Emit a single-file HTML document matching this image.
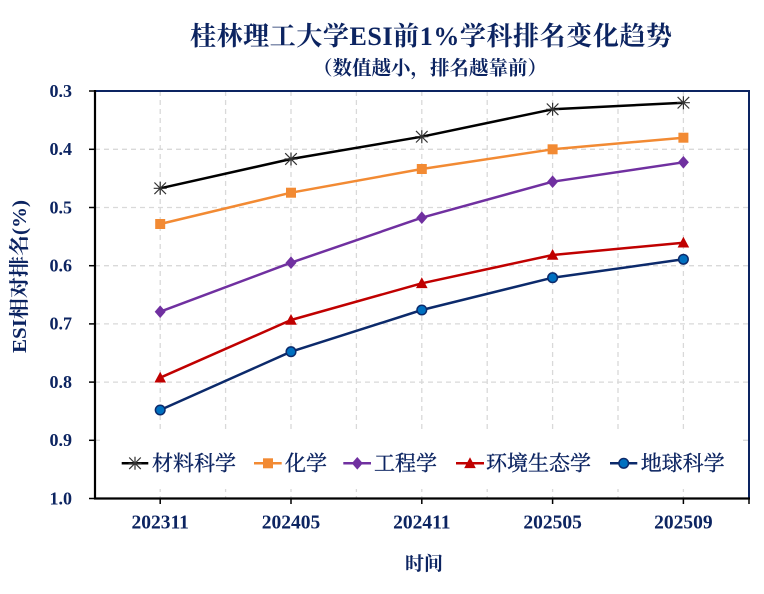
<!DOCTYPE html>
<html>
<head>
<meta charset="utf-8">
<style>
html,body{margin:0;padding:0;background:#fff;}
svg{display:block;}
text{font-family:"Liberation Serif","Noto Serif CJK SC",serif;fill:#0c2461;}
.lg{stroke:#0c2461;stroke-width:0.35;}
</style>
</head>
<body>
<svg width="764" height="594" viewBox="0 0 764 594" xmlns="http://www.w3.org/2000/svg">
<rect x="0" y="0" width="764" height="594" fill="#fff"/>

<!-- Title -->
<text x="190" y="45" font-size="26" font-weight="bold" textLength="482" lengthAdjust="spacing">桂林理工大学ESI前1%学科排名变化趋势</text>
<text x="313" y="74.5" font-size="19.5" font-weight="bold" textLength="234" lengthAdjust="spacing">（数值越小，排名越靠前）</text>

<!-- gridlines -->
<g stroke="#d9d9d9" stroke-width="1.3" stroke-dasharray="5,4" fill="none">
  <line x1="95" y1="149.3" x2="749" y2="149.3"/>
  <line x1="95" y1="207.5" x2="749" y2="207.5"/>
  <line x1="95" y1="265.7" x2="749" y2="265.7"/>
  <line x1="95" y1="323.9" x2="749" y2="323.9"/>
  <line x1="95" y1="382.1" x2="749" y2="382.1"/>
  <line x1="95" y1="440.3" x2="749" y2="440.3"/>
  <line x1="160.2" y1="91" x2="160.2" y2="498"/>
  <line x1="225.6" y1="91" x2="225.6" y2="498"/>
  <line x1="291" y1="91" x2="291" y2="498"/>
  <line x1="356.4" y1="91" x2="356.4" y2="498"/>
  <line x1="421.8" y1="91" x2="421.8" y2="498"/>
  <line x1="487.2" y1="91" x2="487.2" y2="498"/>
  <line x1="552.6" y1="91" x2="552.6" y2="498"/>
  <line x1="618" y1="91" x2="618" y2="498"/>
  <line x1="683.4" y1="91" x2="683.4" y2="498"/>
</g>

<!-- plot border top/right -->
<line x1="94" y1="91" x2="750" y2="91" stroke="#0c2461" stroke-width="2"/>
<line x1="749" y1="90" x2="749" y2="499" stroke="#0c2461" stroke-width="2"/>

<!-- Series -->
<polyline points="160.2,410 291,351.7 421.8,310 552.6,277.7 683.4,259.3" fill="none" stroke="#0c2a6b" stroke-width="2.5" stroke-linejoin="round"/>
<polyline points="160.2,377.7 291,320 421.8,283.3 552.6,255 683.4,242.7" fill="none" stroke="#c00000" stroke-width="2.5" stroke-linejoin="round"/>
<polyline points="160.2,311.7 291,262.7 421.8,217.7 552.6,181.7 683.4,162.3" fill="none" stroke="#7030a0" stroke-width="2.5" stroke-linejoin="round"/>
<polyline points="160.2,224 291,192.7 421.8,169 552.6,149.3 683.4,137.7" fill="none" stroke="#f28a33" stroke-width="2.5" stroke-linejoin="round"/>
<polyline points="160.2,188.3 291,159 421.8,136.7 552.6,109.3 683.4,102.7" fill="none" stroke="#000" stroke-width="2.5" stroke-linejoin="round"/>

<defs>
  <g id="star"><path d="M0,-6.5 L0,6.5 M-5.8,-5.8 L5.8,5.8 M-5.8,5.8 L5.8,-5.8 M-6.5,0 L6.5,0" stroke="#333" stroke-width="1.2" fill="none"/></g>
  <rect id="sq" x="-5" y="-5" width="10" height="10" fill="#f28a33"/>
  <polygon id="dia" points="0,-6.3 5.5,0 0,6.3 -5.5,0" fill="#7030a0"/>
  <polygon id="tri" points="0,-6 5.8,4.8 -5.8,4.8" fill="#c00000"/>
  <circle id="cir" r="4.8" fill="#0070c0" stroke="#0c2a6b" stroke-width="1.5"/>
</defs>

<g>
  <use href="#star" x="160.2" y="188.3"/><use href="#star" x="291" y="159"/><use href="#star" x="421.8" y="136.7"/><use href="#star" x="552.6" y="109.3"/><use href="#star" x="683.4" y="102.7"/>
  <use href="#sq" x="160.2" y="224"/><use href="#sq" x="291" y="192.7"/><use href="#sq" x="421.8" y="169"/><use href="#sq" x="552.6" y="149.3"/><use href="#sq" x="683.4" y="137.7"/>
  <use href="#dia" x="160.2" y="311.7"/><use href="#dia" x="291" y="262.7"/><use href="#dia" x="421.8" y="217.7"/><use href="#dia" x="552.6" y="181.7"/><use href="#dia" x="683.4" y="162.3"/>
  <use href="#tri" x="160.2" y="377.7"/><use href="#tri" x="291" y="320"/><use href="#tri" x="421.8" y="283.3"/><use href="#tri" x="552.6" y="255"/><use href="#tri" x="683.4" y="242.7"/>
  <use href="#cir" x="160.2" y="410"/><use href="#cir" x="291" y="351.7"/><use href="#cir" x="421.8" y="310"/><use href="#cir" x="552.6" y="277.7"/><use href="#cir" x="683.4" y="259.3"/>
</g>

<!-- Legend -->
<rect x="100" y="433" width="640" height="56" fill="#fff"/>
<g>
  <line x1="121.7" y1="463.3" x2="148.3" y2="463.3" stroke="#000" stroke-width="2.5"/>
  <use href="#star" x="135" y="463.3"/>
  <text class="lg" x="152" y="470.5" font-size="21">材料科学</text>

  <line x1="254" y1="463.3" x2="281.7" y2="463.3" stroke="#f28a33" stroke-width="2.5"/>
  <use href="#sq" x="268" y="463.3"/>
  <text class="lg" x="285" y="470.5" font-size="21">化学</text>

  <line x1="343.3" y1="463.3" x2="371" y2="463.3" stroke="#7030a0" stroke-width="2.5"/>
  <use href="#dia" x="357.3" y="463.3"/>
  <text class="lg" x="374" y="470.5" font-size="21">工程学</text>

  <line x1="456" y1="463.3" x2="484" y2="463.3" stroke="#c00000" stroke-width="2.5"/>
  <use href="#tri" x="470" y="463.3"/>
  <text class="lg" x="486" y="470.5" font-size="21">环境生态学</text>

  <line x1="610" y1="463.3" x2="637.3" y2="463.3" stroke="#0c2a6b" stroke-width="2.5"/>
  <use href="#cir" x="623.7" y="463.3"/>
  <text class="lg" x="640.7" y="470.5" font-size="21">地球科学</text>
</g>

<!-- Axes -->
<line x1="95" y1="90" x2="95" y2="499.5" stroke="#000" stroke-width="2.2"/>
<line x1="94" y1="498.5" x2="750" y2="498.5" stroke="#000" stroke-width="2.2"/>
<g stroke="#000" stroke-width="1.5">
  <line x1="89" y1="91" x2="95" y2="91"/>
  <line x1="89" y1="149.3" x2="95" y2="149.3"/>
  <line x1="89" y1="207.5" x2="95" y2="207.5"/>
  <line x1="89" y1="265.7" x2="95" y2="265.7"/>
  <line x1="89" y1="323.9" x2="95" y2="323.9"/>
  <line x1="89" y1="382.1" x2="95" y2="382.1"/>
  <line x1="89" y1="440.3" x2="95" y2="440.3"/>
  <line x1="89" y1="498.5" x2="95" y2="498.5"/>
  <line x1="160.2" y1="498.5" x2="160.2" y2="504"/>
  <line x1="291" y1="498.5" x2="291" y2="504"/>
  <line x1="421.8" y1="498.5" x2="421.8" y2="504"/>
  <line x1="552.6" y1="498.5" x2="552.6" y2="504"/>
  <line x1="683.4" y1="498.5" x2="683.4" y2="504"/>
  <line x1="749" y1="498.5" x2="749" y2="504"/>
</g>

<!-- Y tick labels -->
<g font-size="18" font-weight="bold" text-anchor="end">
  <text x="72" y="96.8">0.3</text>
  <text x="72" y="155.1">0.4</text>
  <text x="72" y="213.3">0.5</text>
  <text x="72" y="271.5">0.6</text>
  <text x="72" y="329.7">0.7</text>
  <text x="72" y="387.9">0.8</text>
  <text x="72" y="446.1">0.9</text>
  <text x="72" y="504.3">1.0</text>
</g>

<!-- X tick labels -->
<g font-size="19.5" font-weight="bold" text-anchor="middle">
  <text x="160.2" y="528.5">202311</text>
  <text x="291" y="528.5">202405</text>
  <text x="421.8" y="528.5">202411</text>
  <text x="552.6" y="528.5">202505</text>
  <text x="683.4" y="528.5">202509</text>
</g>

<!-- Axis titles -->
<text x="424" y="570" font-size="19" font-weight="bold" text-anchor="middle">时间</text>
<text transform="translate(26,353) rotate(-90)" x="0" y="0" font-size="20" font-weight="bold" textLength="153" lengthAdjust="spacingAndGlyphs">ESI相对排名(%)</text>
</svg>
</body>
</html>
